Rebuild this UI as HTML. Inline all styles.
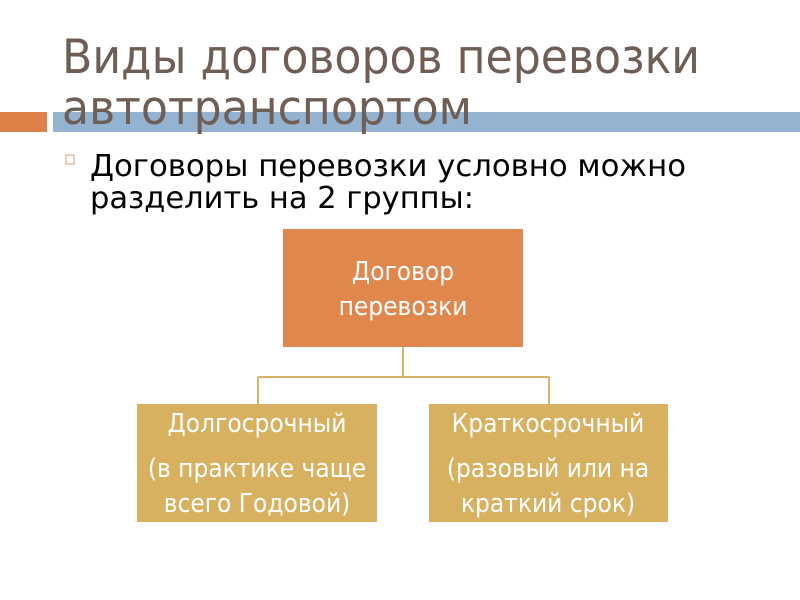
<!DOCTYPE html>
<html><head><meta charset="utf-8"><style>
html,body{margin:0;padding:0;background:#fff;width:800px;height:600px;overflow:hidden}
</style></head><body>
<svg width="800" height="600" xmlns="http://www.w3.org/2000/svg" font-family="DejaVu Sans Condensed, DejaVu Sans, Liberation Sans, sans-serif">
<rect x="0" y="112" width="47" height="20" fill="#df8048"/>
<rect x="53" y="112" width="747" height="20" fill="#93b3d0"/>
<text x="62" y="73" font-size="47" fill="#6e5e55" textLength="638" lengthAdjust="spacingAndGlyphs">Виды договоров перевозки</text>
<text x="62" y="124" font-size="47" fill="#6e5e55" textLength="410" lengthAdjust="spacingAndGlyphs">автотранспортом</text>
<rect x="66" y="155" width="8" height="9" fill="none" stroke="#d9a070" stroke-width="1"/>
<text x="90" y="176" font-size="30" fill="#000" textLength="596" lengthAdjust="spacingAndGlyphs">Договоры перевозки условно можно</text>
<text x="90" y="208" font-size="30" fill="#000" textLength="384" lengthAdjust="spacingAndGlyphs">разделить на 2 группы:</text>
<rect x="283" y="229" width="240" height="118" fill="#df874c"/>
<path d="M403 347V377M258 377H549M258 377V404M549 377V404" stroke="#d7b467" stroke-width="2" fill="none"/>
<rect x="137" y="404" width="240" height="118" fill="#d7b060"/>
<rect x="429" y="404" width="239" height="118" fill="#d7b060"/>
<g fill="#fff" font-size="26" text-anchor="middle">
<text x="403" y="280">Договор</text>
<text x="403" y="315">перевозки</text>
<text x="257" y="432">Долгосрочный</text>
<text x="257" y="477">(в практике чаще</text>
<text x="257" y="512">всего Годовой)</text>
<text x="548" y="432">Краткосрочный</text>
<text x="548" y="477">(разовый или на</text>
<text x="548" y="512">краткий срок)</text>
</g>
</svg>
</body></html>
